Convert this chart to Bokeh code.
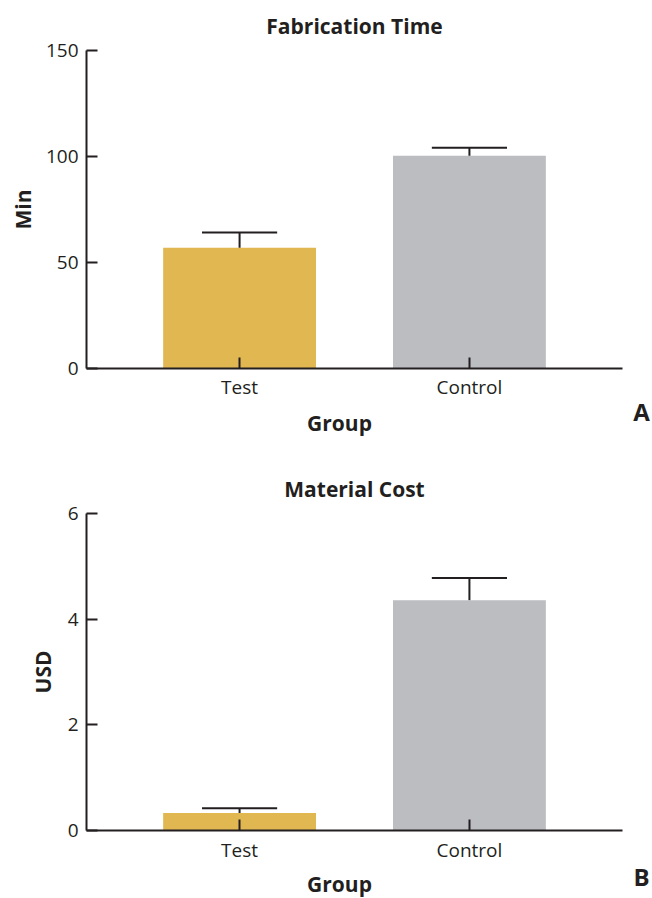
import math
from bokeh.plotting import figure
from bokeh.models import Range1d, FixedTicker, Label
from bokeh.layouts import column
from bokeh.embed import file_html
from bokeh.resources import INLINE

# ---- data ----
categories = ["Test", "Control"]
time_mean = [57.0, 100.4]
time_err = [7.2, 3.7]
cost_mean = [0.33, 4.36]
cost_err = [0.09, 0.42]
bar_colors = ["#E1B752", "#BCBDC1"]
time_ticks = [0, 50, 100, 150]
cost_ticks = [0, 2, 4, 6]
titles = ["Fabrication Time", "Material Cost"]
y_titles = ["Min", "USD"]
x_title = "Group"
letters = ["A", "B"]

INK = "#231F20"
FONT = "Open Sans"
BAR_W = 0.665
CAP_W = 0.327
PAD = 0.666
W = 652
LEFT = 86          # x pixel of the y axis
AXIS_RIGHT = 622   # x pixel where the x axis ends


def make_panel(title, ylabel, means, errs, yticks, letter, height, top_px, axis_px,
               tick_standoff, title_y, ylabel_x, group_y, letter_y):
    xs = list(range(len(categories)))
    bx0, bx1 = -PAD, len(categories) - 1 + PAD
    by0, by1 = yticks[0], yticks[-1]
    ppx = (AXIS_RIGHT - LEFT) / (bx1 - bx0)
    ppy = (axis_px - top_px) / (by1 - by0)

    def dx(px):
        return bx0 + (px - LEFT) / ppx

    def dy(py):
        return by0 + (axis_px - py) / ppy

    p = figure(width=W, height=height, output_backend="svg", toolbar_location=None,
               title=None,
               x_range=Range1d(dx(0), dx(W)), y_range=Range1d(dy(height), dy(0)),
               min_border=0)
    p.outline_line_color = None
    p.xgrid.visible = False
    p.ygrid.visible = False
    p.background_fill_color = "white"
    p.border_fill_color = "white"

    p.vbar(x=xs, top=means, width=BAR_W, bottom=0, fill_color=bar_colors, line_color=None)
    tops = [m + e for m, e in zip(means, errs)]
    p.segment(x0=xs, y0=means, x1=xs, y1=tops, line_color=INK, line_width=2)
    p.segment(x0=[x - CAP_W / 2 for x in xs], y0=tops, x1=[x + CAP_W / 2 for x in xs], y1=tops,
              line_color=INK, line_width=2)

    for ax in (p.xaxis[0], p.yaxis[0]):
        ax.axis_line_color = INK
        ax.axis_line_width = 2
        ax.major_tick_line_color = INK
        ax.major_tick_line_width = 2
        ax.major_tick_in = 11
        ax.major_tick_out = 0
        ax.minor_tick_line_color = None
        ax.major_label_text_font = FONT
        ax.major_label_text_font_size = "19px"
        ax.major_label_text_color = INK

    p.xaxis.ticker = FixedTicker(ticks=xs)
    p.xaxis.major_label_overrides = {x: c for x, c in zip(xs, categories)}
    p.xaxis.major_label_standoff = tick_standoff
    p.xaxis.fixed_location = by0
    p.xaxis.bounds = (bx0, bx1)
    p.yaxis.ticker = FixedTicker(ticks=yticks)
    p.yaxis.major_label_standoff = 8
    p.yaxis.fixed_location = bx0
    p.yaxis.bounds = (by0, by1)

    common = dict(text_align="center", text_baseline="middle", text_font=FONT,
                  text_font_style="bold", text_color=INK)
    p.add_layout(Label(x=dx((LEFT + AXIS_RIGHT) / 2), y=dy(title_y), text=title,
                       text_font_size="21px", **common))
    p.add_layout(Label(x=dx(ylabel_x), y=dy((top_px + axis_px) / 2), text=ylabel,
                       angle=math.pi / 2, text_font_size="21px", **common))
    p.add_layout(Label(x=dx(339), y=dy(group_y), text=x_title,
                       text_font_size="21px", **common))
    p.add_layout(Label(x=dx(641), y=dy(letter_y), text=letter,
                       text_font_size="24px", **common))
    return p


H1, H2 = 445, 453
p1 = make_panel(titles[0], y_titles[0], time_mean, time_err, time_ticks, letters[0],
                H1, 50, 368, 5, 25, 22, 422, 411)
p2 = make_panel(titles[1], y_titles[1], cost_mean, cost_err, cost_ticks, letters[1],
                H2, 513 - H1, 830 - H1, 6, 488 - H1, 42, 438, 876 - H1)

layout = column(p1, p2, spacing=0)
open("out.html", "w").write(file_html(layout, INLINE))
